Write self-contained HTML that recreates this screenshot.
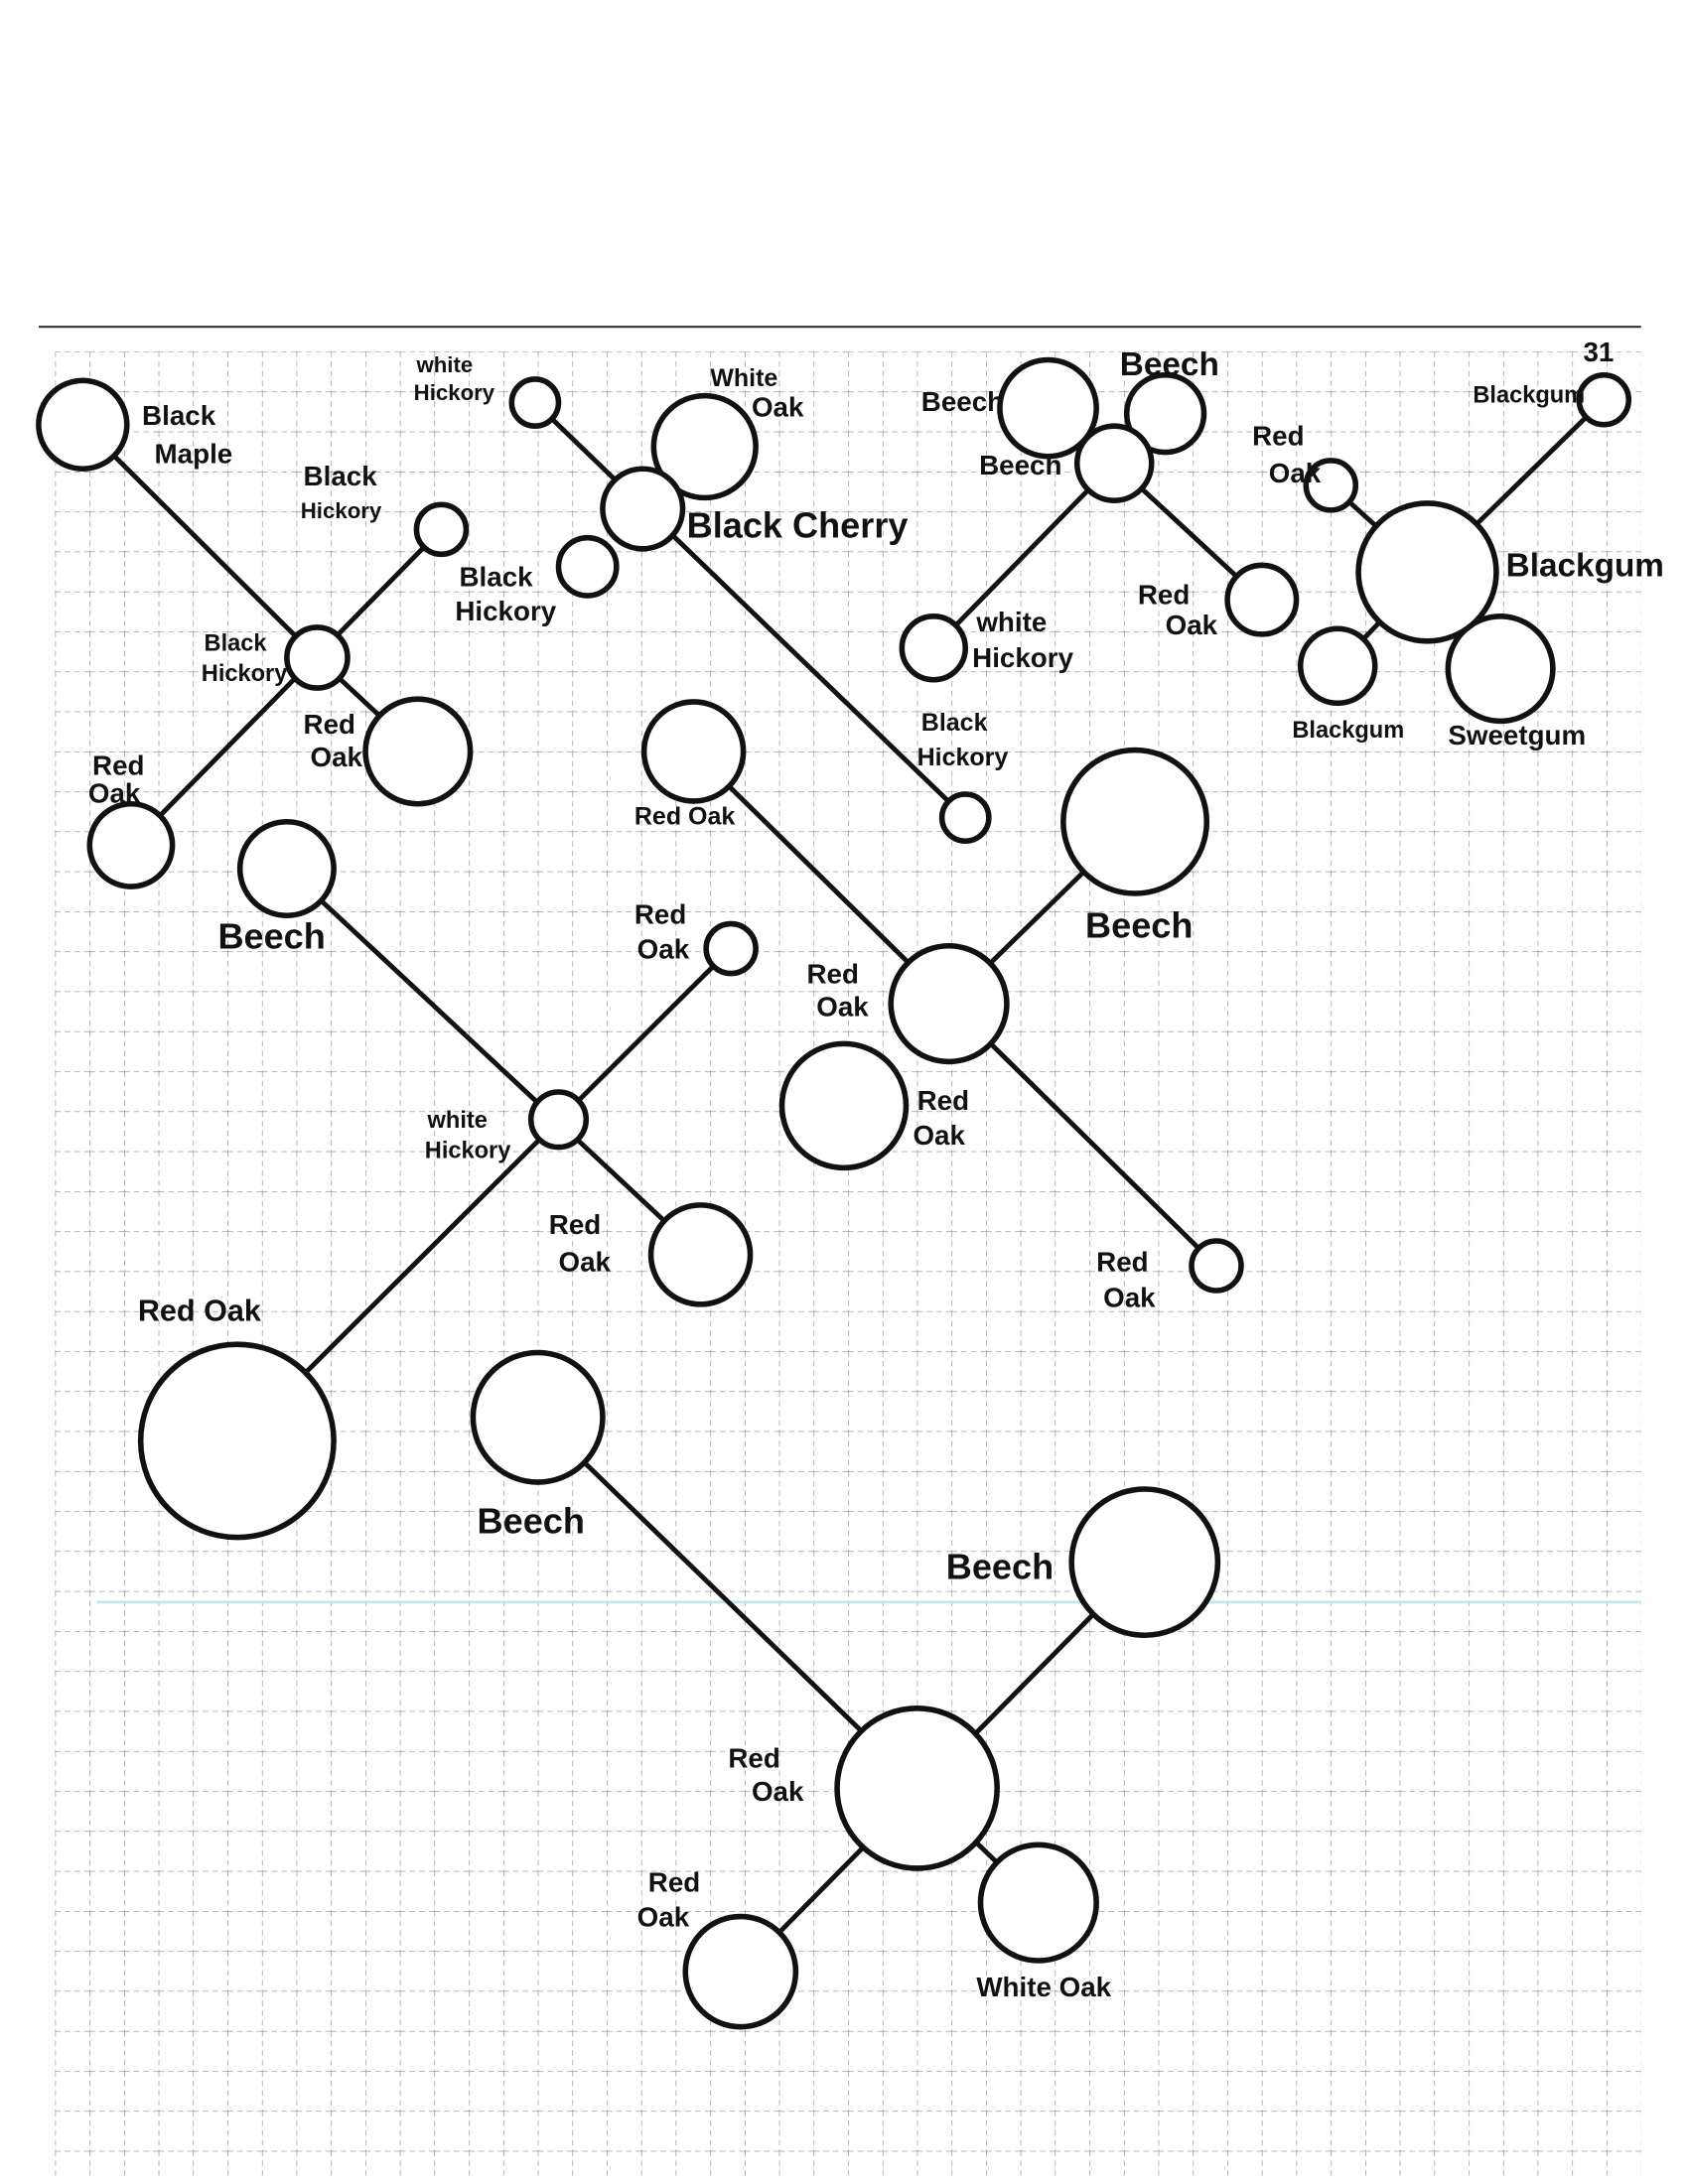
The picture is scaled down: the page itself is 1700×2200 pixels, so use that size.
<!DOCTYPE html>
<html><head><meta charset="utf-8"><style>
html,body{margin:0;padding:0;background:#fff}
svg{display:block}
text{font-family:"Liberation Sans",sans-serif;fill:#111;font-weight:bold}
</style></head><body>
<svg width="1700" height="2200" viewBox="0 0 1224 1584" xmlns="http://www.w3.org/2000/svg">
<defs>
<pattern id="g" x="40" y="255" width="25" height="29" patternUnits="userSpaceOnUse">
<line x1="0" y1="0" x2="0" y2="29" stroke="#8a8a8a" stroke-width="0.9" stroke-dasharray="4 3"/>
<line x1="0" y1="0" x2="25" y2="0" stroke="#8a8a8a" stroke-width="0.9" stroke-dasharray="4 3"/>
</pattern>
</defs>
<rect x="40" y="255" width="1150" height="1325" fill="url(#g)"/>
<line x1="28" y1="237" x2="1190" y2="237" stroke="#333" stroke-width="1.5"/>
<line x1="70" y1="1162" x2="1190" y2="1162" stroke="#bfe8f0" stroke-width="2"/>
<g stroke="#111" stroke-width="3.5" fill="none" stroke-linecap="round">
<line x1="60" y1="308" x2="230" y2="477"/>
<line x1="320" y1="384" x2="95" y2="613"/>
<line x1="230" y1="477" x2="303" y2="545"/>
<line x1="388" y1="292" x2="700" y2="593"/>
<line x1="808" y1="336" x2="677" y2="470"/>
<line x1="808" y1="336" x2="915" y2="435"/>
<line x1="1163" y1="290" x2="1035" y2="415"/>
<line x1="965" y1="352" x2="1035" y2="415"/>
<line x1="970" y1="483" x2="1035" y2="415"/>
<line x1="503" y1="545" x2="882" y2="918"/>
<line x1="823" y1="596" x2="688" y2="728"/>
<line x1="208" y1="630" x2="508" y2="910"/>
<line x1="530" y1="688" x2="172" y2="1045"/>
<line x1="390" y1="1028" x2="753" y2="1380"/>
<line x1="830" y1="1133" x2="537" y2="1430"/>
</g>
<g stroke="#111" stroke-width="4" fill="#fff">
<circle cx="60" cy="308" r="32"/>
<circle cx="320" cy="384" r="18"/>
<circle cx="230" cy="477" r="22"/>
<circle cx="303" cy="545" r="38"/>
<circle cx="95" cy="613" r="30"/>
<circle cx="388" cy="292" r="17"/>
<circle cx="511" cy="324" r="37"/>
<circle cx="426" cy="411" r="21"/>
<circle cx="466" cy="369" r="29"/>
<circle cx="700" cy="593" r="17"/>
<circle cx="760" cy="296" r="35"/>
<circle cx="845" cy="300" r="28"/>
<circle cx="808" cy="336" r="27"/>
<circle cx="915" cy="435" r="25"/>
<circle cx="677" cy="470" r="23"/>
<circle cx="1163" cy="290" r="18"/>
<circle cx="965" cy="352" r="18"/>
<circle cx="970" cy="483" r="27"/>
<circle cx="1088" cy="485" r="38"/>
<circle cx="1035" cy="415" r="50"/>
<circle cx="503" cy="545" r="36"/>
<circle cx="823" cy="596" r="52"/>
<circle cx="612" cy="802" r="45"/>
<circle cx="688" cy="728" r="42"/>
<circle cx="882" cy="918" r="18"/>
<circle cx="208" cy="630" r="34"/>
<circle cx="530" cy="688" r="18"/>
<circle cx="405" cy="812" r="20"/>
<circle cx="508" cy="910" r="36"/>
<circle cx="172" cy="1045" r="70"/>
<circle cx="390" cy="1028" r="47"/>
<circle cx="830" cy="1133" r="53"/>
<circle cx="665" cy="1297" r="58"/>
<circle cx="537" cy="1430" r="40"/>
<circle cx="753" cy="1380" r="42"/>
</g>
<g font-size="20">
<text x="103" y="308">Black</text><text x="112" y="336">Maple</text>
<text x="220" y="352">Black</text><text x="218" y="376" font-size="16">Hickory</text>
<text x="302" y="270" font-size="16">white</text><text x="300" y="290" font-size="16">Hickory</text>
<text x="515" y="280" font-size="18">White</text><text x="545" y="302">Oak</text>
<text x="498" y="390" font-size="26">Black Cherry</text>
<text x="333" y="425">Black</text><text x="330" y="450">Hickory</text>
<text x="148" y="472" font-size="17">Black</text><text x="146" y="494" font-size="17">Hickory</text>
<text x="220" y="532">Red</text><text x="225" y="556">Oak</text>
<text x="67" y="562">Red</text><text x="64" y="582">Oak</text>
<text x="668" y="298">Beech</text>
<text x="812" y="272" font-size="24">Beech</text>
<text x="710" y="344">Beech</text>
<text x="908" y="323">Red</text><text x="920" y="350">Oak</text>
<text x="825" y="438">Red</text><text x="845" y="460">Oak</text>
<text x="708" y="458">white</text><text x="705" y="484">Hickory</text>
<text x="1068" y="292" font-size="17">Blackgum</text>
<text x="1148" y="262" font-size="20">31</text>
<text x="1092" y="418" font-size="24">Blackgum</text>
<text x="937" y="535" font-size="17">Blackgum</text>
<text x="1050" y="540" font-size="20">Sweetgum</text>
<text x="668" y="530" font-size="18">Black</text><text x="665" y="555" font-size="18">Hickory</text>
<text x="460" y="598" font-size="18">Red Oak</text>
<text x="787" y="680" font-size="26">Beech</text>
<text x="460" y="670">Red</text><text x="462" y="695">Oak</text>
<text x="585" y="713">Red</text><text x="592" y="737">Oak</text>
<text x="665" y="805">Red</text><text x="662" y="830">Oak</text>
<text x="158" y="688" font-size="26">Beech</text>
<text x="310" y="818" font-size="17">white</text><text x="308" y="840" font-size="17">Hickory</text>
<text x="398" y="895">Red</text><text x="405" y="922">Oak</text>
<text x="795" y="922">Red</text><text x="800" y="948">Oak</text>
<text x="100" y="958" font-size="22">Red Oak</text>
<text x="346" y="1112" font-size="26">Beech</text>
<text x="686" y="1145" font-size="26">Beech</text>
<text x="528" y="1282">Red</text><text x="545" y="1306">Oak</text>
<text x="470" y="1372">Red</text><text x="462" y="1397">Oak</text>
<text x="708" y="1448">White Oak</text>
</g>
</svg>
</body></html>
